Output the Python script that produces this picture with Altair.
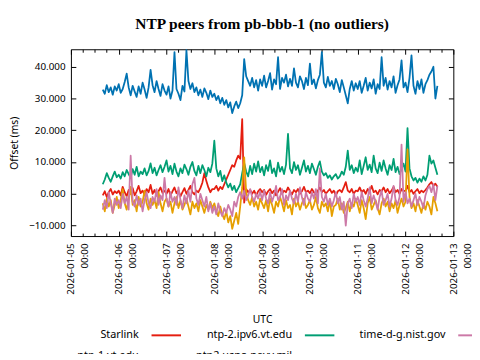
import altair as alt
import pandas as pd

# ---------------- data ----------------
start_time = "2026-01-05 16:00"
n_points = 169  # hourly samples

series_names = ["Starlink", "ntp-1.vt.edu", "ntp-2.ipv6.vt.edu",
                "ntp2.usno.navy.mil", "time-d-g.nist.gov"]
series_colors = ["#e51e10", "#0072b2", "#009e73", "#e69f00", "#cc79a7"]

starlink = [
    -0.5, 0.8, -1.0, 0.5, 1.5, -0.2, 0.8, 0.2,
    1.0, -0.5, 2.2, 0.5, -0.8, 1.2, 0.0, 1.8, -0.5, 0.8, 2.5, 0.2, 1.0, -0.3, 1.5, 0.5, 2.8, 0.0, 1.2, -0.6, 0.8, 2.0, 0.3, 1.0,
    0.0, 1.5, -0.5, 0.8, 2.0, 0.2, 1.0, -0.8, 0.5, 1.8, 0.0, 1.2, 2.5, 0.5, -0.2, 1.0, 0.5, 1.8, 3.5, 6.5, 4.0, 2.0, 0.5, 1.5,
    1.5, 2.5, 1.0, 2.2, 1.5, 3.0, 4.5, 6.0, 7.5, 9.0, 8.5, 10.5, 12.0, 11.0, 23.5, -2.8, 1.5, 0.5, 1.2, 0.0, 1.0, -0.5, 0.8, 1.5,
    0.5, 1.2, -0.3, 0.8, 1.5, 0.2, 1.0, -0.5, 0.6, 1.8, 0.0, 1.0, 0.5, 2.0, 0.8, -0.2, 1.2, 0.5, 1.5, 0.0, 0.8, 2.2, 0.5, 1.0,
    0.2, 1.5, 0.5, -0.3, 1.0, 2.0, 0.5, 1.2, 0.0, 0.8, 1.5, 0.3, 1.0, -0.5, 0.8, 1.2, 0.5, 2.0, 3.7, 1.0, 0.5, 1.5, 0.0, 1.0,
    0.8, 2.0, 0.5, 1.2, 0.0, 1.5, 0.8, 2.5, 0.5, 1.0, -0.2, 1.2, 0.8, 2.0, 0.5, 1.5, 0.2, 1.0, 2.2, 0.5, 1.2, 0.0, 1.5, 0.8,
    1.0, 2.5, 0.5, 1.2, 0.0, 0.8, 1.5, 0.2, 1.0, 0.5, 1.2, 2.0, 3.0, 3.7, 2.5, 3.2, 2.2,
]
ntp1_vt = [
    32.8, 31.5, 34.2, 32.0, 33.5, 31.2, 33.8, 32.5,
    34.5, 31.8, 33.0, 35.2, 37.8, 33.5, 31.0, 34.0, 32.2, 30.5, 33.8, 31.5, 35.0, 32.8, 30.2, 33.5, 39.0, 34.2, 32.0, 35.5, 33.0, 30.8, 34.5, 32.5,
    31.2, 33.8, 30.0, 32.5, 44.6, 33.0, 31.5, 29.5, 34.0, 32.2, 45.2, 35.5, 33.0, 34.8, 32.0, 33.5, 31.0, 32.8, 30.5, 33.2, 31.8, 29.8, 32.5, 30.5,
    31.5, 29.5, 30.8, 28.5, 30.2, 28.0, 29.5, 27.2, 28.8, 25.4, 27.5, 29.0, 27.0, 28.5, 31.0, 42.4, 37.0, 35.5, 34.0, 36.5, 33.5, 35.8, 32.5, 36.0,
    34.0, 37.2, 33.5, 35.5, 38.0, 32.8, 36.0, 34.5, 43.0, 33.0, 36.5, 35.0, 37.5, 33.8, 36.2, 34.0, 39.5, 35.0, 33.5, 37.0, 35.5, 33.0, 36.5, 34.2,
    41.0, 34.5, 36.0, 33.2, 35.8, 37.5, 44.6, 35.0, 33.5, 36.8, 34.0, 35.5, 33.0, 36.2, 34.5, 32.0, 35.8, 33.5, 31.0, 28.5, 33.0, 35.5, 32.5, 34.8,
    33.0, 35.5, 31.8, 34.0, 36.5, 32.5, 35.0, 33.2, 36.0, 31.5, 34.5, 33.0, 43.0, 34.0, 36.5, 32.8, 35.5, 33.5, 37.0, 31.8, 34.2, 36.0, 42.0, 33.5,
    35.0, 32.0, 36.5, 43.6, 34.0, 31.5, 35.5, 33.0, 36.0, 31.8, 34.5, 35.8, 37.5, 38.5, 40.0, 30.0, 34.0,
]
ntp2_ipv6_vt = [
    3.0, 4.5, 6.5, 5.0, 3.8, 5.5, 7.0, 5.2,
    6.0, 4.8, 6.8, 5.5, 7.5, 6.2, 5.0, 7.8, 6.0, 8.5, 5.5, 7.0, 6.2, 8.0, 5.8, 7.2, 9.6, 6.5, 8.2, 5.8, 7.5, 9.0, 6.8, 8.5,
    10.5, 7.0, 8.8, 6.2, 9.5, 7.0, 5.5, 8.0, 6.5, 9.2, 7.8, 6.0, 8.5, 10.0, 7.2, 5.8, 8.8, 6.5, 9.0, 7.5, 5.5, 8.2, 6.8, 9.5,
    16.7, 8.0, 5.5, 7.2, 4.0, 5.8, 3.5, 2.0, 3.2, 1.2, 2.5, 0.5, 1.8, 3.0, 6.5, 9.6, 7.0, 5.5, 8.8, 6.2, 9.5, 7.0, 10.2, 6.8,
    8.5, 5.8, 9.0, 7.2, 10.5, 6.5, 8.0, 5.5, 9.8, 7.0, 8.5, 6.2, 9.2, 18.9, 8.0, 6.5, 10.0, 7.5, 9.0, 6.0, 8.2, 10.5, 7.0, 8.8,
    6.5, 9.5, 7.8, 6.0, 8.5, 10.2, 7.0, 5.8, 6.5, 5.0, 5.8, 4.5, 5.5, 6.2, 4.8, 5.5, 7.0, 6.0, 8.5, 13.6, 7.5, 9.0, 6.5, 8.2,
    7.0, 10.5, 6.2, 8.8, 11.5, 7.5, 9.2, 6.8, 12.0, 8.0, 6.5, 9.8, 7.2, 10.5, 8.0, 6.0, 9.0, 7.5, 11.0, 6.8, 8.5, 6.2, 7.8, 9.5,
    7.0, 20.7, 8.0, 5.5, 4.2, 5.0, 3.5, 4.8, 3.8, 5.5, 4.2, 6.0, 12.0, 9.5, 10.5, 8.2, 6.0,
]
ntp2_usno = [
    -3.0, -5.5, -1.5, -4.0, -2.0, -6.0, -3.5, -1.0,
    -4.5, -2.0, 1.5, -3.0, -5.0, -1.5, 2.2, -3.5, -2.0, -5.5, -1.0, -4.0, -2.5, 1.0, -3.0, -5.0, -1.5, -3.5, -2.0, -4.5, 0.5, -3.0, -5.5, -2.5,
    -1.5, -4.0, -2.5, -6.0, -3.0, -1.0, -4.5, -2.0, -5.0, -3.5, -1.5, -4.0, -6.5, -2.5, -4.5, -3.0, -5.5, -2.0, -4.0, -6.0, -3.5, -5.0, -2.5, -4.5,
    -3.0, -5.5, -7.0, -4.0, -6.5, -8.0, -5.5, -9.0, -7.0, -11.0, -8.5, -6.0, -9.5, -4.0, 2.0, 11.5, 0.5, -2.0, -3.5, -1.0, -4.0, -2.5, -5.0, -1.5,
    -3.0, -4.5, -2.0, -5.5, -1.5, -3.5, -6.0, -2.5, -4.0, -1.0, -3.0, -5.5, -2.0, -4.5, -3.5, -6.5, -1.5, -4.0, -2.5, -5.0, -3.0, -1.5, -4.5, -3.5,
    -2.0, -5.0, -3.5, -1.0, -4.5, -6.0, -2.5, -4.0, -3.0, -5.5, -2.0, -7.0, -4.0, -3.5, -1.5, -5.0, -3.0, -6.0, -4.5, -2.5, -5.5, -3.0, -4.0, -1.5,
    -3.5, -6.0, -2.0, -4.5, -8.0, -3.0, -1.0, -5.0, -3.5, -2.0, -4.5, -6.5, -3.0, -1.5, -4.0, -2.5, -5.5, -3.0, -4.5, -2.0, -6.0, -3.5, -1.5, -4.0,
    -2.5, 14.0, -1.0, -4.5, -3.0, -5.5, -2.0, -4.0, -6.0, -3.0, -5.0, -2.5, -4.0, -6.5, -1.0, -3.0, -5.5,
]
time_d_g_nist = [
    -5.0, -2.0, -4.5, 0.5, -3.0, -6.0, -1.5, -3.5,
    -2.0, -4.5, 0.0, -3.0, -1.0, -5.0, 12.0, -2.5, -4.0, -0.5, -3.5, -1.5, -5.5, -2.0, 0.5, -3.0, -4.5, -1.0, -2.5, 1.5, -3.5, -0.5, -2.0, 5.0,
    -1.5, -4.0, 0.5, -2.5, -1.0, -3.5, 2.0, -2.0, -4.5, -0.5, -3.0, 1.0, -2.5, 3.0, 5.0, -1.5, -3.5, 0.0, -2.0, -4.0, -1.0, -5.5, -3.0, -6.0,
    -4.0, -6.5, -3.0, -5.5, -7.0, -4.5, -6.0, -3.5, -5.0, -7.0, -2.5, -4.0, -1.0, 0.5, -1.5, 1.0, -2.0, -0.5, 1.5, -1.0, -2.5, 0.0, -1.5, 0.8,
    -2.0, 1.0, -1.5, -3.0, 0.5, -2.5, -0.5, 2.5, -2.0, -1.0, 1.5, -3.5, -0.5, -2.0, 1.0, -1.5, -3.0, 0.0, -2.5, 2.0, -1.0, -3.5, 0.5, -1.5,
    -2.5, 0.5, -1.5, 1.5, -3.0, 8.0, -1.0, -2.5, 0.0, -3.5, -1.5, -4.0, -2.0, 0.5, -3.0, -1.0, -5.0, -2.5, -10.0, -3.0, -1.5, -4.5, 0.0, -2.5,
    -1.0, -3.5, 0.5, -2.0, -4.0, -1.5, 2.0, -3.0, -0.5, -2.5, -5.0, -1.0, 1.0, -3.5, -2.0, 0.0, -4.0, -1.5, 2.5, -2.0, -3.5, -1.0, 15.5, -2.5,
    0.5, -3.0, -1.5, -4.0, -2.0, 0.0, -3.5, -1.0, -2.5, -4.5, -0.5, 1.5, 2.5, 0.5, 3.0, -2.0, 2.5,
]

y_ticks = [-10, 0, 10, 20, 30, 40]
y_domain = [-13.3, 45.5]
x_domain = ["2026-01-05 00:00", "2026-01-13 00:00"]

# legend entries are laid out row by row; this order reproduces the
# column-major layout of the original key
legend_order = ["Starlink", "ntp-2.ipv6.vt.edu", "time-d-g.nist.gov",
                "ntp-1.vt.edu", "ntp2.usno.navy.mil"]

# ---------------- build table ----------------
values_by_series = [starlink, ntp1_vt, ntp2_ipv6_vt, ntp2_usno, time_d_g_nist]
times = pd.date_range(start_time, periods=n_points, freq="h")
time_str = [t.strftime("%Y-%m-%dT%H:%M:%SZ") for t in times]
rows = []
for name, vals in zip(series_names, values_by_series):
    for t, v in zip(time_str, vals):
        rows.append({"time": t, "offset": v, "series": name})
df = pd.DataFrame(rows)

color_map = dict(zip(series_names, series_colors))
legend_colors = [color_map[n] for n in legend_order]


def to_ms(s):
    return int(pd.Timestamp(s).value // 10**6)


x_dom_ms = [to_ms(s) for s in x_domain]
x_tick_ms = [int(t.value // 10**6) for t in
             pd.date_range(x_domain[0], x_domain[1], freq="6h")]

FONT = "Noto Sans"
label_expr = ("utchours(datum.value) == 0 ? "
              "[utcFormat(datum.value, '%Y-%m-%d'), utcFormat(datum.value, '%H:%M')] : ''")
# minor (6-hourly) ticks are drawn shorter using a dash pattern
minor_dash = {"condition": {"test": "utchours(datum.value) != 0",
                            "value": [0, 2, 3, 10]},
              "value": [10, 0]}

x_scale = alt.Scale(type="utc", domain=x_dom_ms)
y_scale = alt.Scale(domain=y_domain, nice=False, zero=False)

x_axis_bottom = alt.Axis(
    orient="bottom", values=x_tick_ms, labelExpr=label_expr,
    labelAngle=270, labelAlign="right", labelBaseline="middle",
    labelLineHeight=14, labelPadding=7, labelOverlap=False, labelFlush=False,
    offset=-5, tickSize=5, tickDash=minor_dash, domain=False, grid=False,
    title="UTC", titlePadding=21,
)
y_axis_left = alt.Axis(
    orient="left", values=y_ticks, format=".3f", offset=-5, tickSize=5,
    labelPadding=6, domain=False, grid=False, title="Offset (ms)",
    titlePadding=9,
)
x_axis_top = alt.Axis(
    orient="top", values=x_tick_ms, labels=False, offset=-5, tickSize=5,
    tickDash=minor_dash, domain=False, grid=False, title=None,
)
y_axis_right = alt.Axis(
    orient="right", values=y_ticks, labels=False, offset=-5, tickSize=5,
    domain=False, grid=False, title=None,
)

# key sample: a short horizontal line; the leading move-to gives every key
# entry the same left edge so labels stay right-aligned next to the samples
key_symbol = "M-8.5,0M-1,0L1,0"
legend = alt.Legend(
    title=None, orient="none", legendX=-27, legendY=275, columns=3,
    direction="horizontal", symbolType=key_symbol, symbolSize=900,
    symbolStrokeWidth=2, labelFont=FONT, labelFontSize=11, labelColor="black",
    labelAlign="right", labelOffset={"expr": "-44"}, symbolOffset=108,
    rowPadding={"expr": "-9"}, columnPadding=5, padding=0,
)

lines = alt.Chart(df).mark_line(strokeWidth=1.8, strokeJoin="round").encode(
    x=alt.X("time:T", scale=x_scale, axis=x_axis_bottom),
    y=alt.Y("offset:Q", scale=y_scale, axis=y_axis_left),
    color=alt.Color("series:N",
                    scale=alt.Scale(domain=legend_order, range=legend_colors),
                    legend=legend),
)

frame_axes = alt.Chart(df).mark_point(opacity=0).encode(
    x=alt.X("time:T", scale=x_scale, axis=x_axis_top),
    y=alt.Y("offset:Q", scale=y_scale, axis=y_axis_right),
)

chart = alt.layer(lines, frame_axes).resolve_axis(
    x="independent", y="independent"
).properties(
    width=389, height=190,
    autosize=alt.AutoSizeParams(type="none"),
    padding={"left": 64, "top": 39, "right": 19, "bottom": 117},
    title=alt.TitleParams(
        "NTP peers from pb-bbb-1 (no outliers)", font="Liberation Serif",
        fontSize=15.7, fontWeight="bold", color="black", anchor="middle",
        frame="group", baseline="alphabetic", offset=3,
    ),
).configure_view(
    stroke="black", strokeWidth=1
).configure_axis(
    labelFont=FONT, labelFontSize=10, labelColor="black",
    titleFont=FONT, titleFontSize=10.5, titleFontWeight="normal",
    titleColor="black", tickColor="black", tickWidth=1,
)

chart.save("out.html", embed_options={"renderer": "svg", "actions": False})
